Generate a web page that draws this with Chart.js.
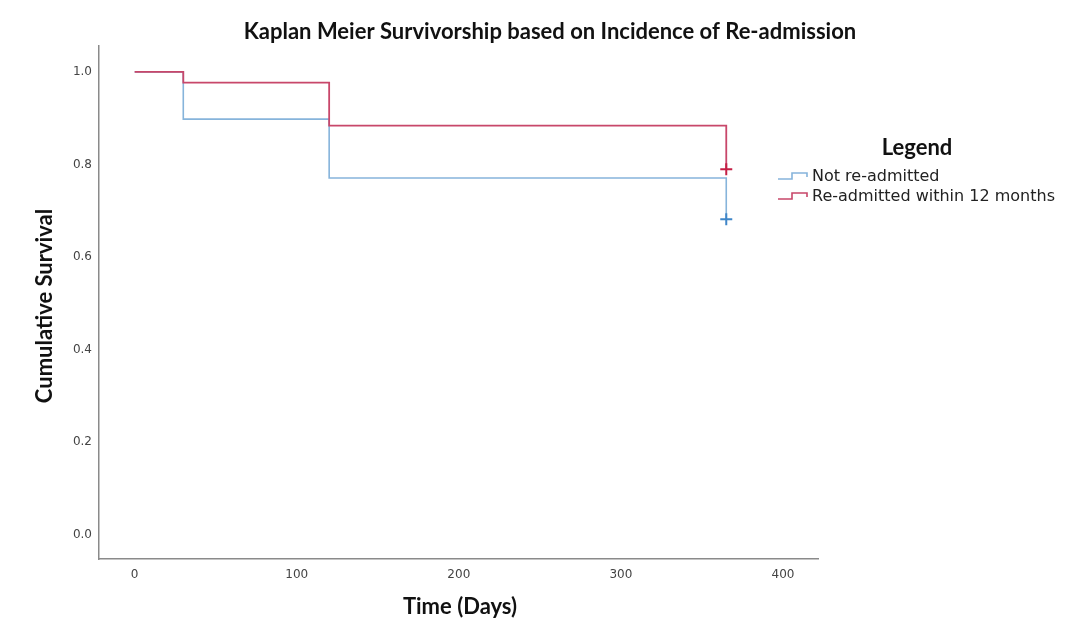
<!DOCTYPE html>
<html>
<head>
<meta charset="utf-8">
<script src="https://cdn.jsdelivr.net/npm/chart.js@4/dist/chart.umd.min.js"></script>
<style>
  html, body { margin: 0; padding: 0; background: #ffffff; overflow: hidden; }
  #km { display: block; }
</style>
</head>
<body>
<canvas id="km" width="1072" height="626"></canvas>
<script>
// Kaplan-Meier survival estimates by re-admission group
const days = [0, 30, 120, 365];
const notReadmitted = [1.0, 0.898, 0.771, 0.682];
const readmitted = [1.0, 0.977, 0.884, 0.790];
const censorDay = 365;
const censorNotReadmitted = 0.682;
const censorReadmitted = 0.790;

const xTicks = [0, 100, 200, 300, 400];
const yTicks = [0.0, 0.2, 0.4, 0.6, 0.8, 1.0];

const chartTitle = 'Kaplan Meier Survivorship based on Incidence of Re-admission';
const xTitle = 'Time (Days)';
const yTitle = 'Cumulative Survival';
const legendTitle = 'Legend';
const groupNames = ['Not re-admitted', 'Re-admitted within 12 months'];

const BLUE = '#86b4db';
const RED = '#c8476a';
const BLUE_MARK = '#3f86c8';
const RED_MARK = '#c41f45';

const titleFont = '"Lato", "Open Sans", sans-serif';
const tickFont = '"DejaVu Sans", Verdana, sans-serif';

function toPoints(xs, ys) {
  return xs.map((x, i) => ({ x: x, y: ys[i] }));
}

// Titles and the step-symbol legend drawn on the canvas
const annotations = {
  id: 'annotations',
  afterDraw(chart) {
    const ctx = chart.ctx;
    ctx.save();
    ctx.fillStyle = '#111';
    ctx.textBaseline = 'middle';
    ctx.textAlign = 'center';

    ctx.font = 'bold 22px ' + titleFont;
    ctx.fillText(chartTitle, 550, 32);
    ctx.fillText(xTitle, 460, 607);

    ctx.save();
    ctx.translate(45, 306);
    ctx.rotate(-Math.PI / 2);
    ctx.fillText(yTitle, 0, 0);
    ctx.restore();

    ctx.fillText(legendTitle, 917, 148);

    const colors = [BLUE, RED];
    const rows = [177, 197];
    ctx.font = '16px ' + tickFont;
    ctx.textAlign = 'left';
    ctx.fillStyle = '#222';
    rows.forEach((yy, i) => {
      ctx.strokeStyle = colors[i];
      ctx.lineWidth = 1.6;
      ctx.beginPath();
      ctx.moveTo(778, yy + 2);
      ctx.lineTo(792, yy + 2);
      ctx.lineTo(792, yy - 4);
      ctx.lineTo(807, yy - 4);
      ctx.lineTo(807, yy);
      ctx.stroke();
      ctx.fillText(groupNames[i], 812, yy);
    });
    ctx.restore();
  }
};

new Chart(document.getElementById('km'), {
  type: 'line',
  data: {
    datasets: [
      {
        label: groupNames[0],
        data: toPoints(days, notReadmitted),
        borderColor: BLUE,
        borderWidth: 1.6,
        stepped: 'before',
        pointRadius: 0,
        fill: false,
        order: 2
      },
      {
        label: groupNames[1],
        data: toPoints(days, readmitted),
        borderColor: RED,
        borderWidth: 1.8,
        stepped: 'before',
        pointRadius: 0,
        fill: false,
        order: 1
      },
      {
        type: 'scatter',
        label: groupNames[0] + ' censored',
        data: [{ x: censorDay, y: censorNotReadmitted }],
        borderColor: BLUE_MARK,
        borderWidth: 2,
        pointStyle: 'cross',
        pointRadius: 6,
        order: 0
      },
      {
        type: 'scatter',
        label: groupNames[1] + ' censored',
        data: [{ x: censorDay, y: censorReadmitted }],
        borderColor: RED_MARK,
        borderWidth: 2,
        pointStyle: 'cross',
        pointRadius: 6,
        order: 0
      }
    ]
  },
  options: {
    responsive: false,
    animation: false,
    devicePixelRatio: 1,
    layout: { padding: { left: 0, top: 46, right: 254, bottom: 0 } },
    plugins: {
      legend: { display: false },
      title: { display: false },
      tooltip: { enabled: false }
    },
    scales: {
      x: {
        type: 'linear',
        min: -22,
        max: 421.6,
        afterBuildTicks(scale) { scale.ticks = xTicks.map(v => ({ value: v })); },
        afterFit(scale) { scale.height = 67; },
        grid: { display: false, drawTicks: false },
        border: { display: true, color: '#8a8a8a', width: 1.5 },
        ticks: {
          padding: 9,
          color: '#444',
          font: { family: tickFont, size: 12 },
          maxRotation: 0,
          callback: v => String(v)
        }
      },
      y: {
        type: 'linear',
        min: -0.052,
        max: 1.056,
        afterBuildTicks(scale) { scale.ticks = yTicks.map(v => ({ value: v })); },
        afterFit(scale) { scale.width = 99; },
        grid: { display: false, drawTicks: false },
        border: { display: true, color: '#8a8a8a', width: 1.5 },
        ticks: {
          padding: 7,
          color: '#444',
          font: { family: tickFont, size: 12 },
          callback: v => v.toFixed(1)
        }
      }
    }
  },
  plugins: [annotations]
});
</script>
</body>
</html>
